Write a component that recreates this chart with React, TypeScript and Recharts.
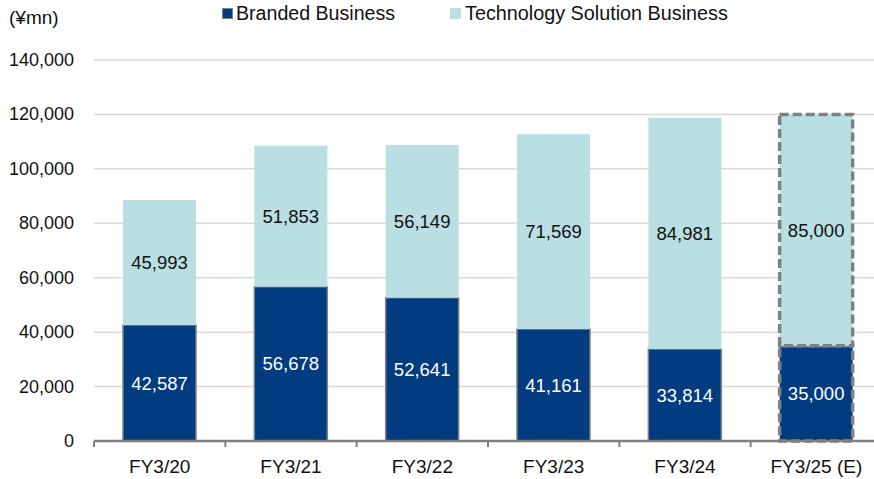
import React from "react";
import { BarChart, Bar, XAxis, YAxis, CartesianGrid, LabelList, Cell } from "recharts";

const categories = ["FY3/20", "FY3/21", "FY3/22", "FY3/23", "FY3/24", "FY3/25 (E)"];
const branded = [42587, 56678, 52641, 41161, 33814, 35000];
const tech = [45993, 51853, 56149, 71569, 84981, 85000];
const yTicks = [0, 20000, 40000, 60000, 80000, 100000, 120000, 140000];
const seriesNames = ["Branded Business", "Technology Solution Business"];
const unitLabel = "(¥mn)";
const estimateIndex = 5;

const data = categories.map((c, i) => ({ name: c, branded: branded[i], tech: tech[i] }));

const NAVY = "#013B80";
const LIGHT = "#B9DFE3";
const GRAY = "#808080";
const FONT = "'Liberation Sans', Arial, sans-serif";
const HALF_BAND = 65.67;

const fmt = (v: number) => v.toLocaleString("en-US");

const XTick = (props: any) => {
  const { x, y, payload } = props;
  return (
    <g>
      <line x1={x - HALF_BAND} x2={x - HALF_BAND} y1={y} y2={y + 6} stroke={GRAY} strokeWidth={2} />
      <text x={x} y={y + 25} textAnchor="middle" dominantBaseline="central" fontSize={19} fill="#111" fontFamily={FONT}>
        {payload.value}
      </text>
    </g>
  );
};

const YTick = (props: any) => {
  const { x, y, payload } = props;
  return (
    <text x={x} y={y} textAnchor="end" dominantBaseline="central" fontSize={18} fill="#111" fontFamily={FONT}>
      {fmt(payload.value)}
    </text>
  );
};

export default function App() {
  return (
    <div style={{ position: "fixed", left: 0, top: 0, width: 874, height: 479, overflow: "hidden", background: "#fff" }}>
      <div style={{ position: "absolute", left: 0, top: 0, width: 874, height: 40, fontFamily: FONT, color: "#111", zIndex: 2, lineHeight: 1.15 }}>
        <span style={{ position: "absolute", left: 9, top: 7, fontSize: 19 }}>{unitLabel}</span>
        <span style={{ position: "absolute", left: 222, top: 8, width: 9, height: 9, background: NAVY, border: `1px solid ${GRAY}` }} />
        <span style={{ position: "absolute", left: 236, top: 2, fontSize: 19.6 }}>{seriesNames[0]}</span>
        <span style={{ position: "absolute", left: 450, top: 8, width: 11, height: 11, background: LIGHT }} />
        <span style={{ position: "absolute", left: 465, top: 2, fontSize: 19.8 }}>{seriesNames[1]}</span>
      </div>
      <BarChart
        width={890}
        height={479}
        data={data}
        margin={{ top: 60, right: 8, bottom: 8, left: 0 }}
        barSize={73}
      >
        <CartesianGrid vertical={false} stroke="#D9D9D9" strokeWidth={1.5} />
        <XAxis
          dataKey="name"
          height={30}
          axisLine={{ stroke: GRAY, strokeWidth: 2.5 }}
          tickLine={false}
          tickSize={0}
          tickMargin={0}
          tick={<XTick />}
          interval={0}
        />
        <YAxis
          width={94}
          domain={[0, 140000]}
          ticks={yTicks}
          axisLine={false}
          tickLine={false}
          tickSize={0}
          tickMargin={20}
          tick={<YTick />}
          interval={0}
        />
        <Bar dataKey="branded" name={seriesNames[0]} stackId="a" fill={NAVY} stroke={GRAY} strokeWidth={1.5} isAnimationActive={false}>
          {data.map((d, i) => (
            <Cell
              key={i}
              fill={NAVY}
              stroke={GRAY}
              strokeWidth={i === estimateIndex ? 3.5 : 1.5}
              strokeDasharray={i === estimateIndex ? "9 4" : undefined}
            />
          ))}
          <LabelList dataKey="branded" position="center" formatter={(v: any) => fmt(v)} fill="#fff" fontSize={18.5} fontFamily={FONT} />
        </Bar>
        <Bar dataKey="tech" name={seriesNames[1]} stackId="a" fill={LIGHT} isAnimationActive={false}>
          {data.map((d, i) => (
            <Cell
              key={i}
              fill={LIGHT}
              stroke={i === estimateIndex ? GRAY : "none"}
              strokeWidth={i === estimateIndex ? 3.5 : 0}
              strokeDasharray={i === estimateIndex ? "9 4" : undefined}
            />
          ))}
          <LabelList dataKey="tech" position="center" formatter={(v: any) => fmt(v)} fill="#111" fontSize={18.5} fontFamily={FONT} />
        </Bar>
      </BarChart>
    </div>
  );
}
